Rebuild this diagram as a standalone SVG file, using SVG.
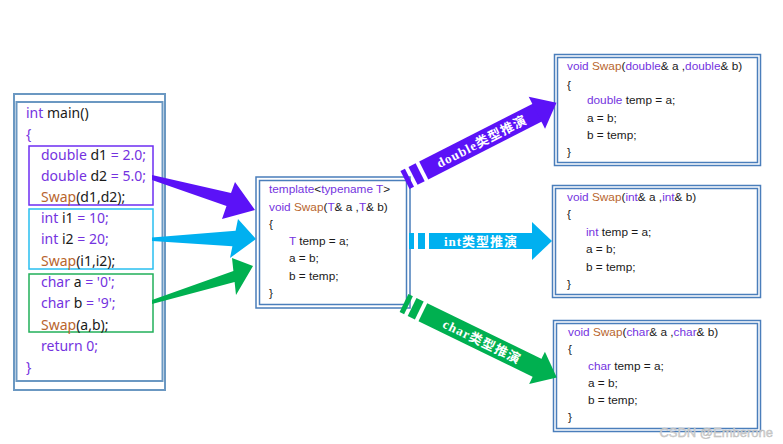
<svg xmlns="http://www.w3.org/2000/svg" width="783" height="444" viewBox="0 0 783 444">
<style>
.main{font-family:"Noto Sans","Open Sans",sans-serif;font-size:14px;fill:#1a1a1a}
.code{font-family:"Liberation Sans",Arial,sans-serif;font-size:11.8px;fill:#1a1a1a}
.kw{fill:#7433e0}
.fn{fill:#b8652e}
.frame{fill:none;stroke:#4a7ebb;stroke-width:1.5}
.mframe{fill:none;stroke:#6b98c2;stroke-width:2}
.lbl{font-family:"Liberation Serif","Noto Sans CJK SC",serif;font-size:13px;font-weight:600;letter-spacing:1px;fill:#ffffff;text-anchor:middle}
</style>
<rect width="783" height="444" fill="#ffffff"/>

<g id="main">
  <rect class="mframe" x="14" y="94" width="151" height="296"/>
  <rect class="mframe" x="16.5" y="102" width="146" height="279"/>
  <rect x="29" y="146" width="124" height="59" fill="none" stroke="#6d2ef2" stroke-width="1.5"/>
  <rect x="29" y="209" width="124" height="60" fill="none" stroke="#29bff0" stroke-width="1.5"/>
  <rect x="29" y="274" width="124" height="58" fill="none" stroke="#22b05a" stroke-width="1.5"/>
  <text class="main" x="26" y="118"><tspan class="kw">int</tspan> main()</text>
  <text class="main kw" x="26" y="139">{</text>
  <text class="main" x="41" y="160"><tspan class="kw">double</tspan> d1 <tspan class="kw">= 2.0;</tspan></text>
  <text class="main" x="41" y="181"><tspan class="kw">double</tspan> d2 <tspan class="kw">= 5.0;</tspan></text>
  <text class="main" x="41" y="202"><tspan class="fn">Swap</tspan>(d1,d2);</text>
  <text class="main" x="41" y="223"><tspan class="kw">int</tspan> i1 <tspan class="kw">= 10;</tspan></text>
  <text class="main" x="41" y="244"><tspan class="kw">int</tspan> i2 <tspan class="kw">= 20;</tspan></text>
  <text class="main" x="41" y="266"><tspan class="fn">Swap</tspan>(i1,i2);</text>
  <text class="main" x="41" y="287"><tspan class="kw">char</tspan> a <tspan class="kw">= '0';</tspan></text>
  <text class="main" x="41" y="308"><tspan class="kw">char</tspan> b <tspan class="kw">= '9';</tspan></text>
  <text class="main" x="41" y="330"><tspan class="fn">Swap</tspan>(a,b);</text>
  <text class="main kw" x="41" y="351">return 0;</text>
  <text class="main kw" x="26" y="372">}</text>
</g>

<g id="template">
  <rect class="frame" x="256" y="177" width="154" height="131"/>
  <rect class="frame" x="259.5" y="180.5" width="147" height="124"/>
  <text class="code" x="269" y="193"><tspan class="kw">template</tspan>&lt;<tspan class="kw">typename T</tspan>&gt;</text>
  <text class="code" x="269" y="211"><tspan class="kw">void</tspan> <tspan class="fn">Swap</tspan>(<tspan class="kw">T</tspan>&amp; a ,<tspan class="kw">T</tspan>&amp; b)</text>
  <text class="code" x="269" y="228">{</text>
  <text class="code" x="289" y="245"><tspan class="kw">T</tspan> temp = a;</text>
  <text class="code" x="289" y="262">a = b;</text>
  <text class="code" x="289" y="280">b = temp;</text>
  <text class="code" x="269" y="297">}</text>
</g>

<g id="swap-double">
  <rect class="frame" x="554.5" y="54.5" width="206" height="111"/>
  <rect class="frame" x="557.5" y="57.5" width="200" height="105"/>
  <text class="code" x="567" y="70"><tspan class="kw">void</tspan> <tspan class="fn">Swap</tspan>(<tspan class="kw">double</tspan>&amp; a ,<tspan class="kw">double</tspan>&amp; b)</text>
  <text class="code" x="567" y="89">{</text>
  <text class="code" x="587" y="104"><tspan class="kw">double</tspan> temp = a;</text>
  <text class="code" x="587" y="122">a = b;</text>
  <text class="code" x="587" y="139">b = temp;</text>
  <text class="code" x="567" y="156">}</text>
</g>

<g id="swap-int">
  <rect class="frame" x="552.5" y="185.5" width="208" height="112"/>
  <rect class="frame" x="555.5" y="188.5" width="202" height="106"/>
  <text class="code" x="567" y="201"><tspan class="kw">void</tspan> <tspan class="fn">Swap</tspan>(<tspan class="kw">int</tspan>&amp; a ,<tspan class="kw">int</tspan>&amp; b)</text>
  <text class="code" x="567" y="218">{</text>
  <text class="code" x="586" y="236"><tspan class="kw">int</tspan> temp = a;</text>
  <text class="code" x="586" y="253">a = b;</text>
  <text class="code" x="586" y="271">b = temp;</text>
  <text class="code" x="567" y="288">}</text>
</g>

<g id="swap-char">
  <rect class="frame" x="553.5" y="320.5" width="207" height="111"/>
  <rect class="frame" x="556.5" y="323.5" width="201" height="105"/>
  <text class="code" x="568" y="336"><tspan class="kw">void</tspan> <tspan class="fn">Swap</tspan>(<tspan class="kw">char</tspan>&amp; a ,<tspan class="kw">char</tspan>&amp; b)</text>
  <text class="code" x="568" y="353">{</text>
  <text class="code" x="588" y="370"><tspan class="kw">char</tspan> temp = a;</text>
  <text class="code" x="588" y="387">a = b;</text>
  <text class="code" x="588" y="404">b = temp;</text>
  <text class="code" x="568" y="421">}</text>
</g>

<g id="connectors">
  <path d="M152,175 L231,193 L235,182 L255,210 L222,219 L226.5,206 L152,180 Z" fill="#5b12f7"/>
  <path d="M152,237.5 L235.6,230.7 L238,219 L256,239 L230,258 L232.4,246.3 L152,241 Z" fill="#00b0f0"/>
  <path d="M152,300 L233.4,271 L232,258 L253,266 L236,295 L234.6,282 L152,304 Z" fill="#00b050"/>

  <g transform="translate(405,180) rotate(-27)" fill="#5b12f7">
    <rect x="0" y="-10" width="5" height="20"/>
    <rect x="9" y="-10" width="8" height="20"/>
    <rect x="21" y="-10" width="128" height="20"/>
    <polygon points="148,-18 170,0 148,18"/>
    <text class="lbl" x="86" y="5">double类型推演</text>
  </g>

  <g fill="#00b0f0">
    <rect x="409" y="233" width="5" height="16"/>
    <rect x="418" y="233" width="7" height="16"/>
    <rect x="429" y="233" width="104" height="16"/>
    <polygon points="532,222 552,241 532,260"/>
    <text class="lbl" x="481" y="245.5">int类型推演</text>
  </g>

  <g transform="translate(404,303) rotate(26)" fill="#00b050">
    <rect x="0" y="-10" width="5" height="20"/>
    <rect x="9" y="-10" width="8" height="20"/>
    <rect x="21" y="-10" width="128" height="20"/>
    <polygon points="148,-18 170,0 148,18"/>
    <text class="lbl" x="87" y="5">char类型推演</text>
  </g>
</g>

<text x="773" y="437" text-anchor="end" font-family="Liberation Sans,Arial,sans-serif" font-size="13" fill="#d6d6d6" stroke="#b8b8b8" stroke-width="0.4">CSDN @Emberone</text>
</svg>
